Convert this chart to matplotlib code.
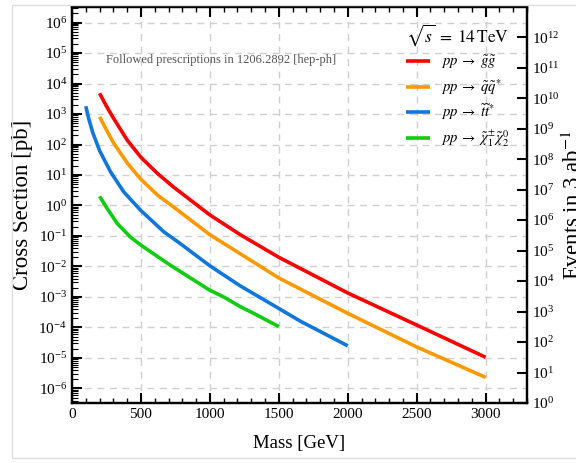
import numpy as np
import matplotlib
matplotlib.use("Agg")
import matplotlib.pyplot as plt
from matplotlib.ticker import LogLocator, MultipleLocator, NullLocator, NullFormatter
from matplotlib.patches import Rectangle

plt.rcParams['font.family'] = 'serif'
plt.rcParams['font.serif'] = ['Liberation Serif', 'DejaVu Serif']
plt.rcParams['mathtext.fontset'] = 'stix'

# ---- data ----
m_gluino = [200, 250, 300, 400, 500, 620, 737, 1000, 1221, 1500, 2000, 2500, 3000]
xs_gluino = [4.8e3, 1.8e3, 7.4e2, 1.4e2, 38, 11.2, 4.0, 0.49, 0.11, 2.0e-2, 1.35e-3, 1.2e-4, 1.05e-5]

m_squark = [200, 250, 300, 400, 500, 620, 737, 1000, 1221, 1500, 2000, 2500, 3000]
xs_squark = [8.1e2, 3.0e2, 1.15e2, 25, 7.2, 2.2, 0.89, 0.11, 2.6e-2, 4.2e-3, 2.9e-4, 2.3e-5, 2.3e-6]

m_stop = [100, 120, 150, 200, 280, 375, 500, 665, 786, 1000, 1221, 1500, 1657, 2000]
xs_stop = [1.8e3, 7.4e2, 2.5e2, 63, 12.6, 2.8, 0.68, 0.138, 5.6e-2, 1.05e-2, 2.3e-3, 4.2e-4, 1.6e-4, 2.5e-5]

m_ewk = [200, 254, 327, 423, 500, 713, 1000, 1100, 1221, 1318, 1500]
xs_ewk = [2.0, 0.81, 0.26, 9.3e-2, 5.0e-2, 1.1e-2, 1.66e-3, 1.0e-3, 4.8e-4, 2.9e-4, 1.07e-4]

labels = [r'$pp\;\rightarrow\;\tilde{g}\tilde{g}$',
          r'$pp\;\rightarrow\;\tilde{q}\tilde{q}^{*}$',
          r'$pp\;\rightarrow\;\tilde{t}\tilde{t}^{*}$',
          r'$pp\;\rightarrow\;\tilde{\chi}_1^{\pm}\tilde{\chi}_2^{0}$']
colors = ['#ff0000', '#ff9900', '#1177dd', '#11cc11']
lumi_pb = 3e6  # 3 ab^-1 in pb^-1

fig = plt.figure(figsize=(5.76, 4.63), dpi=100)
ax = fig.add_axes([72/576, 1-403/463, (527-72)/576, (403-7)/463])

series = [(m_gluino, xs_gluino), (m_squark, xs_squark), (m_stop, xs_stop), (m_ewk, xs_ewk)]
for (m, xs), c, lab in zip(series, colors, labels):
    ax.plot(m, xs, color=c, lw=2.6, label=lab, zorder=3,
            solid_capstyle='butt', solid_joinstyle='round')

ax.set_yscale('log')
ev_min, ev_max = 1.0, 9.7e12
ymin, ymax = ev_min/lumi_pb, ev_max/lumi_pb
ax.set_ylim(ymin, ymax)
ax.set_xlim(0, 3300)

ax.xaxis.set_major_locator(MultipleLocator(500))
ax.xaxis.set_minor_locator(MultipleLocator(100))
ax.yaxis.set_major_locator(LogLocator(base=10, numticks=30))
ax.yaxis.set_minor_locator(LogLocator(base=10, subs=np.arange(2, 10), numticks=30))
ax.yaxis.set_minor_formatter(NullFormatter())

ax.tick_params(which='both', direction='in', top=True, right=False, labelsize=11)
ax.tick_params(which='major', length=7, width=1.5)
ax.tick_params(which='minor', length=3.5, width=1.0)
ax.tick_params(axis='y', which='minor', length=4, width=0.8)
for s in ax.spines.values():
    s.set_linewidth(1.6)

ax.grid(True, which='major', color='#d0d0d0', linestyle=(0, (5, 4)), lw=1.0, zorder=0)

ax.set_xlabel('Mass [GeV]', fontsize=13.5, labelpad=10)
ax.set_ylabel('Cross Section [pb]', fontsize=16.5, labelpad=4)

ax.text(0.075, 0.866, 'Followed prescriptions in 1206.2892 [hep-ph]', transform=ax.transAxes,
        fontsize=9, color='#555555', ha='left', va='center')

ax2 = ax.twinx()
ax2.set_yscale('log')
ax2.set_ylim(ev_min, ev_max)
ax2.yaxis.set_major_locator(LogLocator(base=10, numticks=30))
ax2.yaxis.set_minor_locator(NullLocator())
ax2.tick_params(which='both', direction='in', labelsize=11, length=7, width=1.5)
for s in ax2.spines.values():
    s.set_linewidth(1.6)
ax2.set_ylabel(r'Events in 3 ab$^{-1}$', fontsize=16.5, labelpad=2)

leg = ax.legend(loc='upper right', bbox_to_anchor=(0.99, 0.995), frameon=False,
                fontsize=10.5, title=r'$\sqrt{s}\;=\;14\,\mathrm{TeV}$', title_fontsize=12.5,
                handlelength=1.6, handletextpad=0.8, labelspacing=0.4)

fig.patches.append(Rectangle((12/576, 5/463), 1.0, 1-10/463, transform=fig.transFigure,
                             fill=False, edgecolor='#dddddd', lw=1.0))

fig.savefig('out.png', dpi=100)
